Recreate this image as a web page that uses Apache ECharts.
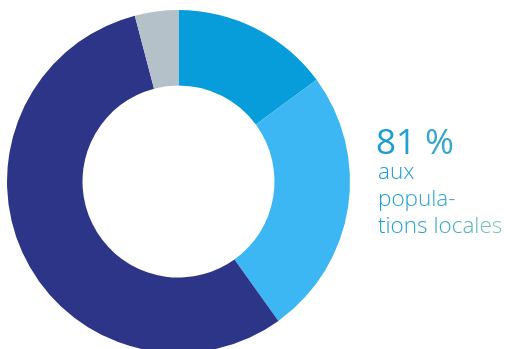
<!DOCTYPE html>
<html><head><meta charset="utf-8">
<script src="https://cdn.jsdelivr.net/npm/echarts@6/dist/echarts.min.js"></script>
<style>html,body{margin:0;padding:0;background:#fff}#c{width:510px;height:349px}</style>
</head><body><div id="c"></div>
<script>
const categories = ['A', 'B', 'C', 'D'];
const values = [14.9, 25.2, 55.8, 4.1];
const colors = ['#079CDA', '#3DB6F4', '#2D3589', '#B5C1C9'];
const labelBig = '81 %';
const labelLines = ['aux', 'popula-', 'tions locales'];

const chart = echarts.init(document.getElementById('c'), null, {renderer: 'canvas'});
const stops = [[378, [22, 156, 216]], [450, [58, 168, 205]], [510, [150, 206, 165]]];
function colorAt(x) {
  if (x <= stops[0][0]) return stops[0][1];
  for (let i = 1; i < stops.length; i++) {
    if (x <= stops[i][0]) {
      const t = (x - stops[i - 1][0]) / (stops[i][0] - stops[i - 1][0]);
      return stops[i - 1][1].map((v, k) => Math.round(v + (stops[i][1][k] - v) * t));
    }
  }
  return stops[stops.length - 1][1];
}
const mctx = document.createElement('canvas').getContext('2d');
function gradText(text, font, left, top) {
  mctx.font = font;
  const rich = {};
  let s = '', x = left;
  [...text].forEach((ch, i) => {
    const w = mctx.measureText(ch).width;
    const c = colorAt(x + w / 2);
    rich['c' + i] = {font: font, fill: 'rgb(' + c.join(',') + ')'};
    s += '{c' + i + '|' + ch + '}';
    x += w;
  });
  return {type: 'text', left: left, top: top, style: {text: s, font: font, rich: rich}};
}
const bigFont = '400 35px "Open Sans"';
const smallFont = '300 22.5px "Open Sans"';
const graphics = [gradText(labelBig, bigFont, 376, 127)];
labelLines.forEach((t, i) => graphics.push(gradText(t, smallFont, 378, 161.5 + i * 26.6)));
chart.setOption({
  animation: false,
  graphic: graphics,
  series: [{
    type: 'pie',
    center: [178.5, 181.5],
    radius: [96, 171.5],
    startAngle: 90,
    clockwise: true,
    label: {show: false},
    labelLine: {show: false},
    itemStyle: {borderWidth: 0},
    emphasis: {disabled: true},
    data: categories.map((c, i) => ({name: c, value: values[i], itemStyle: {color: colors[i]}}))
  }]
});
</script></body></html>
